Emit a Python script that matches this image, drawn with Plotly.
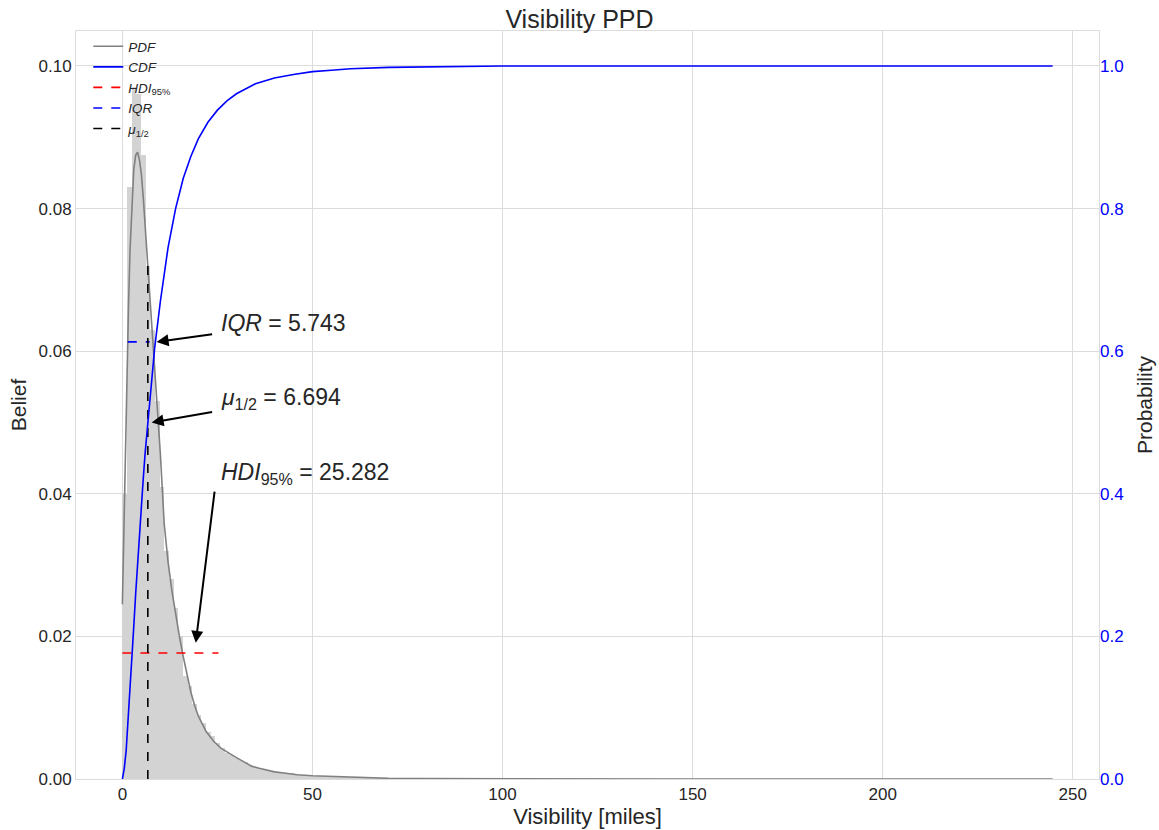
import plotly.graph_objects as go

# ---------------- data ----------------
bin_width = 1.2235
hist_values = [0.040, 0.083, 0.097, 0.096, 0.0875, 0.072, 0.063, 0.053, 0.041, 0.032,
               0.028, 0.024, 0.020, 0.0145, 0.013, 0.0105, 0.0090, 0.0078, 0.0066, 0.0060,
               0.0050, 0.0044, 0.0037, 0.0034, 0.0030, 0.0027, 0.0024, 0.0020, 0.0017, 0.0016,
               0.0014, 0.0013, 0.0011, 0.0010, 0.0009, 0.0009, 0.0008, 0.0007, 0.0006, 0.0005,
               0.0005, 0.0004, 0.0004, 0.0004, 0.0003, 0.0003, 0.0003, 0.0003, 0.0002, 0.0002,
               0.0002, 0.0002, 0.0002, 0.0001, 0.0001, 0.0001, 0.0001, 0.0001, 0.0001, 0.0001]
hist_centers = [bin_width * (i + 0.5) for i in range(len(hist_values))]

pdf_x = [0, 0.4, 0.8, 1.2, 1.6, 2.0, 2.5, 3.0, 3.5, 4.0, 4.5, 5.0, 5.5, 6.0, 6.5, 7.0, 7.5,
         8.0, 8.5, 9.0, 9.5, 10, 11, 12, 13, 14, 15, 16, 17, 18, 19, 20, 22, 24, 26, 28, 30,
         32, 34, 36, 38, 40, 43, 46, 50, 55, 60, 65, 70, 80, 100, 150, 200, 244.7]
pdf_y = [0.0245, 0.036, 0.048, 0.058, 0.066, 0.074, 0.081, 0.0855, 0.0875, 0.0879, 0.0868,
         0.0848, 0.0815, 0.0775, 0.0735, 0.0690, 0.0655, 0.0625, 0.058, 0.0535, 0.049, 0.0455,
         0.0358, 0.0305, 0.0265, 0.0230, 0.0200, 0.0172, 0.0145, 0.0122, 0.0103, 0.0088,
         0.0067, 0.0053, 0.0043, 0.0036, 0.0030, 0.0024, 0.0018, 0.0015, 0.0012, 0.0010,
         0.0008, 0.0006, 0.00045, 0.00035, 0.00028, 0.00018, 0.0001, 0.00005, 0.00002,
         0.00001, 0.0, 0.0]

cdf_x = [0, 0.5, 1.0, 1.5, 2.0, 2.5, 3.0, 3.5, 4.0, 4.5, 5.0, 5.5, 6.0, 6.7, 7.5, 8.5, 10,
         12, 14, 16, 18, 20, 22.5, 25, 27.5, 30, 35, 40, 45, 50, 55, 60, 70, 80, 100, 150,
         200, 244.7]
cdf_y = [0, 0.015, 0.040, 0.080, 0.122, 0.168, 0.214, 0.260, 0.304, 0.345, 0.385, 0.422,
         0.458, 0.5, 0.55, 0.605, 0.67, 0.745, 0.80, 0.842, 0.873, 0.898, 0.921, 0.938, 0.951,
         0.961, 0.975, 0.983, 0.988, 0.992, 0.994, 0.996, 0.998, 0.999, 1.0, 1.0, 1.0, 1.0]

hdi_value = 25.282
iqr_value = 5.743
median_value = 6.694

hdi_x = [0.0, 25.282]
hdi_level = 0.01767
iqr_x = [1.42, 7.163]
iqr_level = 0.0613
median_top = 0.0725

# ---------------- figure ----------------
GRID = "#dcdcdc"
TXT = "#262626"
FONT = "Liberation Sans, Arial, sans-serif"

fig = go.Figure()

fig.add_trace(go.Bar(x=hist_centers, y=hist_values, width=bin_width,
                     marker=dict(color="#d3d3d3", line=dict(width=0)),
                     showlegend=False, hoverinfo="skip"))

fig.add_trace(go.Scatter(x=pdf_x, y=pdf_y, mode="lines", name="<i>PDF</i>",
                         line=dict(color="#808080", width=1.6)))
fig.add_trace(go.Scatter(x=cdf_x, y=cdf_y, mode="lines", name="<i>CDF</i>",
                         line=dict(color="#0000ff", width=1.6), yaxis="y2"))
fig.add_trace(go.Scatter(x=hdi_x, y=[hdi_level, hdi_level], mode="lines",
                         name="<i>HDI</i><sub>95%</sub>",
                         line=dict(color="#ff0000", width=1.6, dash="dash")))
fig.add_trace(go.Scatter(x=iqr_x, y=[iqr_level, iqr_level], mode="lines",
                         name="<i>IQR</i>",
                         line=dict(color="#0000ff", width=1.6, dash="dash")))
fig.add_trace(go.Scatter(x=[median_value, median_value], y=[0, median_top], mode="lines",
                         name="<i>μ</i><sub>1/2</sub>",
                         line=dict(color="#000000", width=1.6, dash="dash")))

# arrows (tail -> head) in data coordinates
arrows = [
    (24.0, 0.0624, 9.0, 0.0613),
    (24.0, 0.0515, 7.7, 0.0500),
    (24.3, 0.0405, 19.3, 0.0191),
]
for ax_, ay_, hx, hy in arrows:
    fig.add_annotation(x=hx, y=hy, ax=ax_, ay=ay_, xref="x", yref="y",
                       axref="x", ayref="y", text="", showarrow=True,
                       arrowhead=2, arrowsize=1.2, arrowwidth=2, arrowcolor="black")

labels = [
    (25.3, 0.0640, f"<i>IQR</i> = {iqr_value:.3f}"),
    (25.3, 0.0534, f"<i>μ</i><sub>1/2</sub> = {median_value:.3f}"),
    (25.3, 0.0428, f"<i>HDI</i><sub>95%</sub> = {hdi_value:.3f}"),
]
for lx, ly, t in labels:
    fig.add_annotation(x=lx, y=ly, xref="x", yref="y", text=t, showarrow=False,
                       xanchor="left", yanchor="middle",
                       font=dict(family=FONT, size=23, color=TXT))

fig.update_layout(
    width=1159, height=830,
    margin=dict(l=75.5, r=60, t=31, b=51, autoexpand=False),
    paper_bgcolor="white", plot_bgcolor="white",
    font=dict(family=FONT, color=TXT),
    bargap=0,
    title=dict(text="Visibility PPD", x=0.5, xanchor="center",
               y=1 - 19 / 830, yanchor="middle", yref="container",
               font=dict(size=25, color=TXT,
                         family="Liberation Sans Narrow, Arial Narrow, Liberation Sans, sans-serif")),
    showlegend=True,
    legend=dict(x=0.012, y=1.0, xanchor="left", yanchor="top",
                bgcolor="rgba(255,255,255,0)", borderwidth=0,
                font=dict(size=13.5, color=TXT), tracegroupgap=0,
                itemwidth=30),
    xaxis=dict(range=[-12.2, 256.9], tickvals=[0, 50, 100, 150, 200, 250],
               showgrid=True, gridcolor=GRID, gridwidth=1, zeroline=False,
               showline=True, linecolor=GRID, mirror=True, ticks="", automargin=False,
               tickfont=dict(size=17, color=TXT),
               title=dict(text="Visibility [miles]", font=dict(size=22, color=TXT),
                          standoff=2)),
    yaxis=dict(range=[0, 0.1049], tickvals=[0, 0.02, 0.04, 0.06, 0.08, 0.10],
               tickformat=".2f", showgrid=True, gridcolor=GRID, gridwidth=1,
               zeroline=False, showline=True, linecolor=GRID, mirror=True, ticks="",
               automargin=False,
               tickfont=dict(size=17, color=TXT),
               title=dict(text="Belief", font=dict(size=21, color=TXT), standoff=6)),
    yaxis2=dict(range=[0, 1.049], tickvals=[0, 0.2, 0.4, 0.6, 0.8, 1.0],
                tickformat=".1f", overlaying="y", side="right", showgrid=False,
                zeroline=False, showline=False, ticks="", automargin=False,
                tickfont=dict(size=17, color="#0000ff"),
                title=dict(text="Probability", font=dict(size=21, color=TXT), standoff=14)),
)

fig.write_html("out.html")
